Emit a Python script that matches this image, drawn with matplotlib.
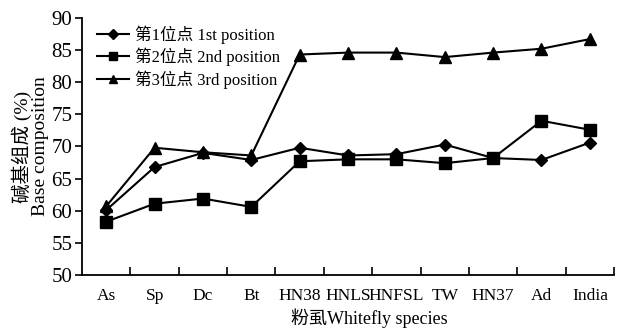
import matplotlib.pyplot as plt
import numpy as np

plt.rcParams['font.family'] = ['Liberation Serif', 'Noto Sans CJK SC']
plt.rcParams['font.size'] = 15

species = ["As", "Sp", "Dc", "Bt", "HN38", "HNLS", "HNFSL", "TW", "HN37", "Ad", "India"]
pos1 = [60.1, 66.8, 69.0, 67.9, 69.8, 68.6, 68.8, 70.3, 68.2, 67.9, 70.6]
pos2 = [58.3, 61.1, 61.9, 60.6, 67.7, 68.0, 68.0, 67.4, 68.2, 74.0, 72.6]
pos3 = [60.7, 69.8, 69.1, 68.6, 84.3, 84.6, 84.6, 83.9, 84.6, 85.2, 86.7]

fig = plt.figure(figsize=(6.19, 3.31), dpi=100)
ax = fig.add_axes([0.1325, 0.169, 0.8595, 0.777])

x = np.arange(len(species))
ax.plot(x, pos1, color="k", lw=1.5, marker="D", ms=6, label="第1位点 1st position")
ax.plot(x, pos2, color="k", lw=1.5, marker="s", ms=8, label="第2位点 2nd position")
ax.plot(x, pos3, color="k", lw=1.5, marker="^", ms=8, label="第3位点 3rd position")

ax.set_xlim(-0.5, len(species) - 0.5)
ax.set_ylim(50, 90)
ax.set_yticks(range(50, 91, 5))
ax.set_xticks(x)
ax.set_xticklabels(species, fontsize=12.5)
ax.set_xticks(np.arange(len(species)) + 0.5, minor=True)
ax.tick_params(axis="x", which="major", length=0, pad=9)
ax.tick_params(axis="x", which="minor", direction="in", length=6, width=1.2)
ax.tick_params(axis="y", direction="out", length=5, width=1.2, pad=2)
for s in ["top", "right"]:
    ax.spines[s].set_visible(False)
for s in ["left", "bottom"]:
    ax.spines[s].set_linewidth(1.3)

ax.set_xlabel("粉虱Whitefly species", fontsize=13)
ax.xaxis.set_label_coords(0.54, -0.168)
ax.xaxis.label.set_va("center")
ax.set_ylabel("碱基组成 (%)\nBase composition", fontsize=14, linespacing=0.95, labelpad=2)

ax.legend(loc="upper left", frameon=False, handlelength=1.9, handletextpad=0.4,
          borderaxespad=0.5, labelspacing=0.25, fontsize=12, markerscale=0.8,
          bbox_to_anchor=(0.0, 1.03))

fig.savefig("out.png", dpi=100)
